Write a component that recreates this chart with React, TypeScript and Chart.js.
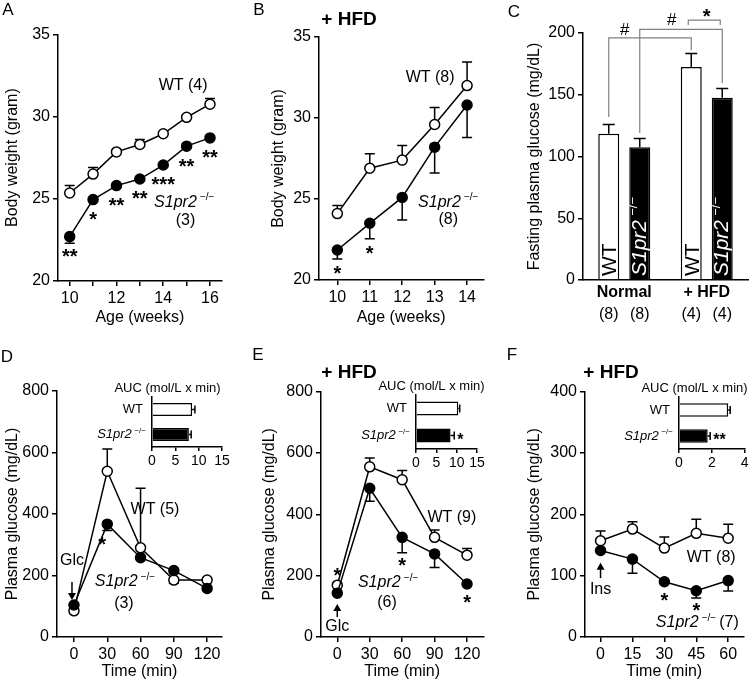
import React, { useEffect, useRef } from 'react';
import { Chart, registerables } from 'chart.js';

Chart.register(...registerables);
const FAMILY = "'Liberation Sans', Arial, Helvetica, sans-serif";
Chart.defaults.font.family = FAMILY;
Chart.defaults.color = '#000';

// ---------------- Panel A: body weight, normal diet ----------------
const weeksA = [10, 11, 12, 13, 14, 15, 16];
const wtA = [25.35, 26.5, 27.85, 28.3, 28.95, 29.95, 30.75];
const wtAErr = [0.45, 0.4, 0.1, 0.3, 0.1, 0.1, 0.35];
const koA = [22.7, 24.95, 25.8, 26.2, 27.05, 28.2, 28.7];
const koAErr = [0.4, 0.1, 0.1, 0.1, 0.1, 0.1, 0.1];
const sigA = ['**', '*', '**', '**', '***', '**', '**'];
const xTicksA = [10, 11, 12, 13, 14, 15, 16];
const yTicksAB = [20, 25, 30, 35];

// ---------------- Panel B: body weight, HFD ----------------
const weeksB = [10, 11, 12, 13, 14];
const wtB = [24.1, 26.9, 27.4, 29.6, 32.0];
const wtBErr = [0.5, 0.9, 0.9, 1.05, 1.45];
const koB = [21.85, 23.5, 25.1, 28.2, 30.8];
const koBErr = [0.55, 0.95, 1.4, 1.6, 2.0];
const sigB = ['*', '*', '', '', ''];

// ---------------- Panel C: fasting glucose ----------------
const groupsC = ['Normal', '+ HFD'];
const wtC = [118.5, 172.5];
const wtCErr = [7.5, 11];
const koC = [107.5, 147.5];
const koCErr = [7, 7.5];
const nWtC = ['(8)', '(4)'];
const nKoC = ['(8)', '(4)'];
const yTicksC = [0, 50, 100, 150, 200];

// ---------------- Panel D: GTT normal ----------------
const timeDE = [0, 30, 60, 90, 120];
const wtD = [85, 539, 290, 185, 185];
const wtDErr = [0, 72, 194, 0, 0];
const koD = [104, 367, 258, 216, 158];
const koDErr = [0, 21, 0, 41, 0];
const sigD = ['', '*', '', '', ''];
const yTicksDE = [0, 200, 400, 600, 800];
const aucD = [8.6, 7.9];
const aucDErr = [0.6, 0.5];
const aucDSig = ['', ''];

// ---------------- Panel E: GTT HFD ----------------
const wtE = [169, 555, 513, 325, 267];
const wtEErr = [0, 29, 30, 24, 22];
const koE = [143, 485, 325, 271, 173];
const koEErr = [0, 42, 50, 44, 0];
const sigEKo = ['', '', '*', '', '*'];
const sigEWt = ['*', '', '', '', ''];
const aucE = [10.4, 8.5];
const aucEErr = [0.35, 0.9];
const aucESig = ['', '*'];

// ---------------- Panel F: ITT HFD ----------------
const timeF = [0, 15, 30, 45, 60];
const wtF = [157, 176, 145, 169, 161];
const wtFErr = [16, 12, 18, 23, 23];
const koF = [141, 127, 90, 75.5, 92];
const koFErr = [0, 23, 0, 12, 17];
const sigF = ['', '', '*', '*', ''];
const yTicksF = [0, 100, 200, 300, 400];
const aucF = [3.0, 1.75];
const aucFErr = [0.12, 0.15];
const aucFSig = ['', '**'];

const xTicksDE = [0, 30, 60, 90, 120];
const xTicksF = [0, 15, 30, 45, 60];

// ---------------- drawing helpers ----------------
function drawText(ctx: any, s: string, x: number, y: number, o: any = {}) {
  const { size = 16, weight = 'normal', style = 'normal', align = 'center', baseline = 'middle', color = '#000' } = o;
  ctx.save();
  ctx.font = `${style} ${weight} ${size}px ${FAMILY}`;
  ctx.textAlign = align;
  ctx.textBaseline = baseline;
  ctx.fillStyle = color;
  ctx.fillText(s, x, y);
  ctx.restore();
}
function star(ctx: any, s: string, x: number, yc: number, size = 20, align = 'center') {
  if (!s) return;
  drawText(ctx, s, x, yc + 0.57 * size, { size, weight: 'bold', baseline: 'alphabetic', align });
}
function gene(ctx: any, x: number, y: number, size: number, align = 'left', color = '#000'): number {
  ctx.save();
  const sup = Math.round(size * 0.62);
  ctx.font = `italic normal ${size}px ${FAMILY}`;
  const w1 = ctx.measureText('S1pr2').width;
  ctx.font = `normal normal ${sup}px ${FAMILY}`;
  const w2 = ctx.measureText('\u2212/\u2212').width;
  const gap = size * 0.2;
  const total = w1 + gap + w2;
  const x0 = align === 'left' ? x : align === 'center' ? x - total / 2 : x - total;
  ctx.fillStyle = color;
  ctx.textAlign = 'left';
  ctx.textBaseline = 'middle';
  ctx.font = `italic normal ${size}px ${FAMILY}`;
  ctx.fillText('S1pr2', x0, y);
  ctx.font = `normal normal ${sup}px ${FAMILY}`;
  ctx.fillText('\u2212/\u2212', x0 + w1 + gap, y - size * 0.3);
  ctx.restore();
  return x0 + total;
}
function arrow(ctx: any, x: number, y0: number, y1: number) {
  ctx.save();
  ctx.strokeStyle = '#000';
  ctx.fillStyle = '#000';
  ctx.lineWidth = 1.5;
  const d = Math.sign(y1 - y0);
  ctx.beginPath();
  ctx.moveTo(x, y0);
  ctx.lineTo(x, y1 - d * 6);
  ctx.stroke();
  ctx.beginPath();
  ctx.moveTo(x - 4, y1 - d * 7);
  ctx.lineTo(x + 4, y1 - d * 7);
  ctx.lineTo(x, y1);
  ctx.closePath();
  ctx.fill();
  ctx.restore();
}
function letter(ctx: any, s: string, x: number, y: number) {
  drawText(ctx, s, x, y, { size: 17 });
}
function hfd(ctx: any, x: number, y: number) {
  drawText(ctx, '+ HFD', x, y, { size: 19, weight: 'bold' });
}
const sx = (c: any) => (v: number) => c.scales.x.getPixelForValue(v);
const sy = (c: any) => (v: number) => c.scales.y.getPixelForValue(v);

const errorPlugin = {
  id: 'errbars',
  beforeDatasetsDraw(chart: any) {
    const ctx = chart.ctx;
    const horizontal = chart.options.indexAxis === 'y';
    chart.data.datasets.forEach((ds: any, i: number) => {
      if (!ds.err) return;
      const meta = chart.getDatasetMeta(i);
      const vScale = horizontal ? chart.scales.x : chart.scales.y;
      const dir = ds.errDir ?? 1;
      const cap = ds.errCap ?? 5;
      ctx.save();
      ctx.strokeStyle = '#000';
      ctx.lineWidth = 1.5;
      meta.data.forEach((el: any, j: number) => {
        const e = ds.err[j];
        if (!e) return;
        const raw = ds.data[j];
        const v = typeof raw === 'number' ? raw : raw.y;
        const end = vScale.getPixelForValue(v + dir * e);
        ctx.beginPath();
        if (horizontal) {
          ctx.moveTo(el.x, el.y);
          ctx.lineTo(end, el.y);
          ctx.moveTo(end, el.y - cap);
          ctx.lineTo(end, el.y + cap);
        } else {
          ctx.moveTo(el.x, el.y);
          ctx.lineTo(el.x, end);
          ctx.moveTo(el.x - cap, end);
          ctx.lineTo(el.x + cap, end);
        }
        ctx.stroke();
      });
      ctx.restore();
    });
  },
};

const axisLook = () => ({
  grid: { display: true, drawOnChartArea: false, drawTicks: true, tickLength: 5, color: '#000', lineWidth: 1.5 },
  border: { display: true, color: '#000', width: 1.5 },
});

function lineConfig(s: any) {
  const ds = (data: number[], err: number[], dir: number, fill: string) => ({
    data: s.xs.map((x: number, i: number) => ({ x, y: data[i] })),
    err,
    errDir: dir,
    errCap: 5,
    borderColor: '#000',
    borderWidth: 1.5,
    backgroundColor: fill,
    pointBackgroundColor: fill,
    pointBorderColor: '#000',
    pointBorderWidth: 1.5,
    pointRadius: 5,
    showLine: true,
    tension: 0,
    clip: false,
  });
  return {
    type: 'line',
    data: { datasets: [ds(s.ko, s.koErr, -1, '#000'), ds(s.wt, s.wtErr, 1, '#fff')] },
    options: {
      responsive: false,
      animation: false,
      devicePixelRatio: 1,
      events: [],
      layout: { padding: { top: s.padTop, right: s.padRight, left: 0, bottom: 0 } },
      plugins: { legend: { display: false }, tooltip: { enabled: false } },
      scales: {
        x: {
          type: 'linear',
          min: s.xMin,
          max: s.xMax,
          afterBuildTicks: (sc: any) => {
            sc.ticks = s.xTicks.map((v: number) => ({ value: v }));
          },
          afterFit: (sc: any) => {
            sc.height = s.xHeight;
          },
          ticks: {
            autoSkip: false,
            maxRotation: 0,
            padding: 3,
            font: { size: 16 },
            callback: (v: number) => (s.xLabel ? s.xLabel(v) : String(v)),
          },
          title: { display: true, text: s.xTitle, font: { size: 16 }, padding: { top: 0, bottom: s.xTitlePad } },
          ...axisLook(),
        },
        y: {
          type: 'linear',
          min: s.yMin,
          max: s.yMax,
          afterBuildTicks: (sc: any) => {
            sc.ticks = s.yTicks.map((v: number) => ({ value: v }));
          },
          afterFit: (sc: any) => {
            sc.width = s.yWidth;
          },
          ticks: { padding: 3, font: { size: 16 } },
          title: { display: true, text: s.yTitle, font: { size: 16 }, padding: { top: s.yTitlePad, bottom: 0 } },
          ...axisLook(),
        },
      },
    },
    plugins: [errorPlugin, { id: 'ann', afterDraw: s.annotate }],
  };
}

function insetConfig(vals: number[], errs: number[], sigs: string[], max: number, ticks: number[], yWidth: number, padTop: number, padRight: number, xHeight: number) {
  return {
    type: 'bar',
    data: {
      labels: ['WT', 'S1pr2-/-'],
      datasets: [
        {
          data: vals,
          err: errs,
          errDir: 1,
          errCap: 4,
          backgroundColor: ['#fff', '#000'],
          borderColor: '#000',
          borderWidth: 1.5,
          categoryPercentage: 0.8,
          barPercentage: 0.65,
        },
      ],
    },
    options: {
      indexAxis: 'y',
      responsive: false,
      animation: false,
      devicePixelRatio: 1,
      events: [],
      layout: { padding: { top: padTop, right: padRight, left: 0, bottom: 0 } },
      plugins: { legend: { display: false }, tooltip: { enabled: false } },
      scales: {
        x: {
          type: 'linear',
          min: 0,
          max,
          afterBuildTicks: (sc: any) => {
            sc.ticks = ticks.map((v) => ({ value: v }));
          },
          afterFit: (sc: any) => {
            sc.height = xHeight;
          },
          ticks: { autoSkip: false, maxRotation: 0, padding: 1.5, font: { size: 14 } },
          grid: { display: true, drawOnChartArea: false, drawTicks: true, tickLength: 4, color: '#000', lineWidth: 1.5 },
          border: { display: true, color: '#000', width: 1.5 },
        },
        y: {
          type: 'category',
          ticks: { display: false },
          grid: { display: false },
          border: { display: true, color: '#000', width: 1.5 },
          afterFit: (sc: any) => {
            sc.width = yWidth;
          },
        },
      },
    },
    plugins: [
      errorPlugin,
      {
        id: 'annInset',
        afterDraw(c: any) {
          const ctx = c.ctx;
          const a = c.chartArea;
          const X = sx(c);
          const m = c.getDatasetMeta(0).data;
          drawText(ctx, 'AUC (mol/L x min)', a.left + 15.5, a.top - 9, { size: 13 });
          drawText(ctx, 'WT', a.left - 9, m[0].y, { size: 13, align: 'right' });
          gene(ctx, a.left - 6, m[1].y, 13, 'right');
          sigs.forEach((s, i) => {
            if (s) star(ctx, s, X(vals[i] + errs[i]) + 3, m[i].y, 16, 'left');
          });
        },
      },
    ],
  };
}

// ---------------- panel configs ----------------
const cfgA = () =>
  lineConfig({
    xs: weeksA, wt: wtA, wtErr: wtAErr, ko: koA, koErr: koAErr,
    xMin: 9.5, xMax: 16.5, xTicks: xTicksA, xLabel: (v: number) => (v % 2 === 0 ? String(v) : ''),
    yMin: 20, yMax: 35, yTicks: yTicksAB,
    yTitle: 'Body weight (gram)', xTitle: 'Age (weeks)',
    yWidth: 58, xHeight: 49, padTop: 34.3, padRight: 28.3, yTitlePad: 3.4, xTitlePad: 2.4,
    annotate: (c: any) => {
      const ctx = c.ctx;
      const X = sx(c), Y = sy(c);
      letter(ctx, 'A', 8, 10);
      drawText(ctx, 'WT (4)', X(14.85), Y(31.9));
      gene(ctx, X(14.9), Y(24.8), 16, 'center');
      drawText(ctx, '(3)', X(14.95), Y(23.7));
      sigA.forEach((s, i) => star(ctx, s, X(weeksA[i]), Math.max(Y(koA[i]) + 15, Y(koA[i] - koAErr[i]) + 7)));
    },
  });

const cfgB = () =>
  lineConfig({
    xs: weeksB, wt: wtB, wtErr: wtBErr, ko: koB, koErr: koBErr,
    xMin: 9.435, xMax: 14.5, xTicks: weeksB,
    yMin: 20, yMax: 35, yTicks: yTicksAB,
    yTitle: 'Body weight (gram)', xTitle: 'Age (weeks)',
    yWidth: 69, xHeight: 50, padTop: 37, padRight: 16.7, yTitlePad: 18.7, xTitlePad: 2.4,
    annotate: (c: any) => {
      const ctx = c.ctx;
      const X = sx(c), Y = sy(c);
      letter(ctx, 'B', 9, 10);
      hfd(ctx, 99, 20);
      drawText(ctx, 'WT (8)', X(12.86), Y(32.47));
      gene(ctx, X(13.42), Y(24.8), 16, 'center');
      drawText(ctx, '(8)', X(13.42), Y(23.7));
      sigB.forEach((s, i) => star(ctx, s, X(weeksB[i]), Y(koB[i] - koBErr[i]) + 10));
    },
  });

const cfgC = () => ({
  type: 'bar',
  data: {
    labels: groupsC,
    datasets: [
      { data: wtC, err: wtCErr, errDir: 1, errCap: 6, backgroundColor: '#fff', borderColor: '#000', borderWidth: 1.5, categoryPercentage: 0.7515, barPercentage: 0.677 },
      { data: koC, err: koCErr, errDir: 1, errCap: 6, backgroundColor: '#000', borderColor: '#000', borderWidth: 1.5, categoryPercentage: 0.7515, barPercentage: 0.677 },
    ],
  },
  options: {
    responsive: false,
    animation: false,
    devicePixelRatio: 1,
    events: [],
    layout: { padding: { top: 33, right: 2, left: 0, bottom: 0 } },
    plugins: { legend: { display: false }, tooltip: { enabled: false } },
    scales: {
      x: {
        type: 'category',
        ticks: { font: { size: 16, weight: 'bold' }, padding: 3.4, maxRotation: 0 },
        grid: { display: true, drawOnChartArea: false, drawTicks: false },
        border: { display: true, color: '#000', width: 1.5 },
        afterFit: (sc: any) => {
          sc.height = 50;
        },
      },
      y: {
        type: 'linear',
        min: 0,
        max: 200,
        afterBuildTicks: (sc: any) => {
          sc.ticks = yTicksC.map((v) => ({ value: v }));
        },
        afterFit: (sc: any) => {
          sc.width = 83;
        },
        ticks: { padding: 3, font: { size: 16 } },
        title: { display: true, text: 'Fasting plasma glucose (mg/dL)', font: { size: 16 }, padding: { top: 25.4, bottom: 0 } },
        ...axisLook(),
      },
    },
  },
  plugins: [
    errorPlugin,
    {
      id: 'annC',
      afterDraw(c: any) {
        const ctx = c.ctx;
        const Y = sy(c);
        const w = c.getDatasetMeta(0).data;
        const k = c.getDatasetMeta(1).data;
        letter(ctx, 'C', 14, 12);
        // labels inside bars
        w.forEach((b: any) => {
          ctx.save();
          ctx.translate(b.x, Y(0) - 4);
          ctx.rotate(-Math.PI / 2);
          drawText(ctx, 'WT', 0, 0.36 * 21, { size: 21, align: 'left', baseline: 'alphabetic' });
          ctx.restore();
        });
        k.forEach((b: any) => {
          ctx.save();
          ctx.translate(b.x, Y(0) - 4);
          ctx.rotate(-Math.PI / 2);
          gene(ctx, 0, 0, 21, 'left', '#fff');
          ctx.restore();
        });
        // n labels
        w.forEach((b: any, i: number) => drawText(ctx, nWtC[i], b.x, Y(0) + 35));
        k.forEach((b: any, i: number) => drawText(ctx, nKoC[i], b.x, Y(0) + 35));
        // brackets
        ctx.save();
        ctx.strokeStyle = '#808080';
        ctx.lineWidth = 1.2;
        ctx.beginPath();
        ctx.moveTo(w[0].x, Y(132));
        ctx.lineTo(w[0].x, Y(196));
        ctx.lineTo(w[1].x, Y(196));
        ctx.lineTo(w[1].x, Y(186));
        ctx.stroke();
        ctx.beginPath();
        ctx.moveTo(k[0].x, Y(119));
        ctx.lineTo(k[0].x, Y(203));
        ctx.lineTo(k[1].x, Y(203));
        ctx.lineTo(k[1].x, Y(159.5));
        ctx.stroke();
        ctx.beginPath();
        ctx.moveTo(w[1].x - 3, Y(206.5));
        ctx.lineTo(w[1].x - 3, Y(210.5));
        ctx.lineTo(k[1].x - 2, Y(210.5));
        ctx.lineTo(k[1].x - 2, Y(206.5));
        ctx.stroke();
        ctx.restore();
        drawText(ctx, '#', w[0].x + 16, Y(202.4), { size: 17 });
        drawText(ctx, '#', k[0].x + 32, Y(209.9), { size: 17 });
        star(ctx, '*', (w[1].x + k[1].x) / 2, Y(217));
      },
    },
  ],
});

const cfgD = () =>
  lineConfig({
    xs: timeDE, wt: wtD, wtErr: wtDErr, ko: koD, koErr: koDErr,
    xMin: -15.3, xMax: 133.4, xTicks: xTicksDE,
    yMin: 0, yMax: 800, yTicks: yTicksDE,
    yTitle: 'Plasma glucose (mg/dL)', xTitle: 'Time (min)',
    yWidth: 57, xHeight: 49, padTop: 61, padRight: 28, yTitlePad: 3.4, xTitlePad: 4.4,
    annotate: (c: any) => {
      const ctx = c.ctx;
      const X = sx(c), Y = sy(c);
      letter(ctx, 'D', 7, 27);
      arrow(ctx, X(0) - 2, Y(179), Y(120));
      drawText(ctx, 'Glc', X(0) - 2, Y(250));
      sigD.forEach((s, i) => star(ctx, s, X(timeDE[i]) - 5, Math.max(Y(koD[i]) + 14, Y(koD[i] - koDErr[i]) + 9)));
      drawText(ctx, 'WT (5)', X(73), Y(413));
      gene(ctx, X(46), Y(179), 16, 'center');
      drawText(ctx, '(3)', X(45), Y(110));
    },
  });

const cfgE = () =>
  lineConfig({
    xs: timeDE, wt: wtE, wtErr: wtEErr, ko: koE, koErr: koEErr,
    xMin: -15.05, xMax: 135.05, xTicks: xTicksDE,
    yMin: 0, yMax: 800, yTicks: yTicksDE,
    yTitle: 'Plasma glucose (mg/dL)', xTitle: 'Time (min)',
    yWidth: 71, xHeight: 49, padTop: 61.7, padRight: 16.7, yTitlePad: 10.4, xTitlePad: 4.4,
    annotate: (c: any) => {
      const ctx = c.ctx;
      const X = sx(c), Y = sy(c);
      letter(ctx, 'E', 8, 25);
      hfd(ctx, 99, 43);
      sigEWt.forEach((s, i) => star(ctx, s, X(timeDE[i]), Y(wtE[i]) - 15));
      sigEKo.forEach((s, i) => star(ctx, s, X(timeDE[i]), Math.max(Y(koE[i]) + 14, Y(koE[i] - koEErr[i]) + 8)));
      drawText(ctx, 'WT (9)', X(106), Y(391));
      gene(ctx, X(47), Y(176), 16, 'center');
      drawText(ctx, '(6)', X(46), Y(111));
      arrow(ctx, X(0), Y(65), Y(107.5));
      drawText(ctx, 'Glc', X(0), Y(32.6));
    },
  });

const cfgF = () =>
  lineConfig({
    xs: timeF, wt: wtF, wtErr: wtFErr, ko: koF, koErr: koFErr,
    xMin: -7.31, xMax: 67.2, xTicks: xTicksF,
    yMin: 0, yMax: 400, yTicks: yTicksF,
    yTitle: 'Plasma glucose (mg/dL)', xTitle: 'Time (min)',
    yWidth: 85, xHeight: 49, padTop: 61.7, padRight: 2, yTitlePad: 25.4, xTitlePad: 4.4,
    annotate: (c: any) => {
      const ctx = c.ctx;
      const X = sx(c), Y = sy(c);
      letter(ctx, 'F', 12, 25);
      hfd(ctx, 111, 43);
      arrow(ctx, X(0), Y(96), Y(121));
      drawText(ctx, 'Ins', X(0), Y(76.6));
      sigF.forEach((s, i) => star(ctx, s, X(timeF[i]), Math.max(Y(koF[i]) + 14, Y(koF[i] - koFErr[i]) + 8)));
      drawText(ctx, 'WT (8)', X(52), Y(130));
      const end = gene(ctx, X(26), Y(23), 16, 'left');
      drawText(ctx, '(7)', end + 3, Y(23), { align: 'left' });
    },
  });

const cfgInD = () => insetConfig(aucD, aucDErr, aucDSig, 15, [0, 5, 10, 15], 62, 25, 18, 25);
const cfgInE = () => insetConfig(aucE, aucEErr, aucESig, 15, [0, 5, 10, 15], 76, 23, 13, 23);
const cfgInF = () => insetConfig(aucF, aucFErr, aucFSig, 4, [0, 2, 4], 89, 25, 5, 23);

function ChartBox({ left, top, width, height, make }: any) {
  const ref = useRef<HTMLCanvasElement>(null);
  useEffect(() => {
    const chart = new Chart(ref.current as any, make() as any);
    return () => chart.destroy();
  }, []);
  return <canvas ref={ref} width={width} height={height} style={{ position: 'absolute', left, top, width, height }} />;
}

export default function App() {
  return (
    <div style={{ position: 'absolute', left: 0, top: 0, width: 750, height: 686, background: '#fff', overflow: 'hidden' }}>
      <ChartBox left={0} top={0} width={250} height={330} make={cfgA} />
      <ChartBox left={250} top={0} width={250} height={330} make={cfgB} />
      <ChartBox left={500} top={0} width={250} height={330} make={cfgC} />
      <ChartBox left={0} top={330} width={250} height={356} make={cfgD} />
      <ChartBox left={250} top={330} width={250} height={356} make={cfgE} />
      <ChartBox left={500} top={330} width={250} height={356} make={cfgF} />
      <ChartBox left={90} top={372} width={150} height={100} make={cfgInD} />
      <ChartBox left={340} top={372} width={150} height={100} make={cfgInE} />
      <ChartBox left={590} top={372} width={160} height={100} make={cfgInF} />
    </div>
  );
}
